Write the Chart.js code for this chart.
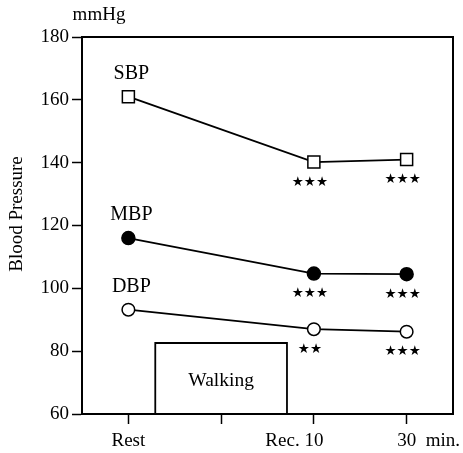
<!DOCTYPE html>
<html>
<head>
<meta charset="utf-8">
<script src="https://cdn.jsdelivr.net/npm/chart.js@4/dist/chart.umd.min.js"></script>
<style>html,body{margin:0;padding:0;background:#fff}</style>
</head>
<body>
<canvas id="bp" width="463" height="453"></canvas>
<script>
// x positions of the time points (Rest, walking, Rec. 10, 30 min)
const xPos = [0, 1, 2, 3];
const xLabels = ['Rest', '', 'Rec. 10', '30  min.'];
const yTicks = [60, 80, 100, 120, 140, 160, 180];

// measured points: Rest, Rec. 10, 30 min
const seriesX = [0, 2, 3];
const sbp = [161, 140.2, 141];
const mbp = [116, 104.7, 104.5];
const dbp = [93.2, 87, 86.2];
const seriesNames = ['SBP', 'MBP', 'DBP'];
const sbpSig = ['', '★★★', '★★★'];
const mbpSig = ['', '★★★', '★★★'];
const dbpSig = ['', '★★', '★★★'];

// walking period box (x from / to, top value)
const walkX = [0.29, 0.29, 1.71, 1.71];
const walkY = [60, 82.6, 82.6, 60];
const walkLabel = 'Walking';

const serif = '"Liberation Serif", "Times New Roman", serif';

function pts(xs, ys) {
    return xs.map((v, i) => ({x: v, y: ys[i]}));
}

const annot = {
    id: 'annot',
    afterDraw(chart) {
        const ctx = chart.ctx;
        const a = chart.chartArea;
        const x = chart.scales.x, y = chart.scales.y;
        ctx.save();
        ctx.strokeStyle = '#000';
        ctx.lineWidth = 2;
        ctx.strokeRect(a.left, a.top, a.right - a.left, a.bottom - a.top);

        ctx.fillStyle = '#000';
        ctx.textBaseline = 'middle';
        ctx.textAlign = 'center';
        ctx.font = '19px ' + serif;
        ctx.fillText('mmHg', 99, 15);

        // y title
        ctx.save();
        ctx.translate(17, 214);
        ctx.rotate(-Math.PI / 2);
        ctx.fillText('Blood Pressure', 0, 0);
        ctx.restore();

        // x labels, number centred under the tick
        xLabels.forEach((lab, i) => {
            const px = x.getPixelForValue(xPos[i]);
            const py = a.bottom + 27;
            const m = lab.match(/^(.*?)(\d+)(.*)$/);
            if (!m) {
                ctx.textAlign = 'center';
                ctx.fillText(lab, px, py);
                return;
            }
            const w = ctx.measureText(m[2]).width;
            ctx.textAlign = 'center';
            ctx.fillText(m[2], px, py);
            ctx.textAlign = 'right';
            ctx.fillText(m[1], px - w / 2, py);
            ctx.textAlign = 'left';
            ctx.fillText(m[3], px + w / 2, py);
        });

        // series names above first point, significance marks below
        const all = [sbp, mbp, dbp];
        const sigs = [sbpSig, mbpSig, dbpSig];
        ctx.textAlign = 'center';
        all.forEach((s, k) => {
            ctx.font = '20px ' + serif;
            ctx.fillText(seriesNames[k], x.getPixelForValue(seriesX[0]) + 3, y.getPixelForValue(s[0]) - 23);
            ctx.font = '13.5px "DejaVu Sans"';
            sigs[k].forEach((t, i) => {
                if (!t) return;
                ctx.fillText(t, x.getPixelForValue(seriesX[i]) - 4, y.getPixelForValue(s[i]) + 20);
            });
        });

        // walking label
        ctx.font = '19.5px ' + serif;
        const wx = x.getPixelForValue((walkX[0] + walkX[2]) / 2);
        const wy = (y.getPixelForValue(walkY[1]) + y.getPixelForValue(walkY[0])) / 2 + 2;
        ctx.fillText(walkLabel, wx, wy);
        ctx.restore();
    }
};

const lineStyle = {
    borderColor: '#000',
    borderWidth: 1.8,
    pointBorderColor: '#000',
    pointBorderWidth: 1.5,
    tension: 0
};

new Chart(document.getElementById('bp'), {
    type: 'line',
    data: {
        datasets: [
            Object.assign({label: seriesNames[0], data: pts(seriesX, sbp),
                pointStyle: 'rect', pointRadius: 8.5, pointBackgroundColor: '#fff'}, lineStyle),
            Object.assign({label: seriesNames[1], data: pts(seriesX, mbp),
                pointStyle: 'circle', pointRadius: 6.5, pointBackgroundColor: '#000'}, lineStyle),
            Object.assign({label: seriesNames[2], data: pts(seriesX, dbp),
                pointStyle: 'circle', pointRadius: 6.3, pointBackgroundColor: '#fff'}, lineStyle),
            {label: walkLabel, data: pts(walkX, walkY), borderColor: '#000', borderWidth: 1.8,
                pointRadius: 0, fill: false, tension: 0}
        ]
    },
    options: {
        responsive: false,
        animation: false,
        layout: {padding: {top: 37, right: 10, left: 0, bottom: 0}},
        plugins: {legend: {display: false}, tooltip: {enabled: false}},
        scales: {
            x: {
                type: 'linear',
                min: -0.5,
                max: 3.5,
                afterBuildTicks: s => { s.ticks = xPos.map(v => ({value: v})); },
                afterFit: s => { s.height = 39; },
                ticks: {display: false},
                grid: {drawOnChartArea: false, tickLength: 10, tickWidth: 1.5, color: '#000'},
                border: {color: '#000', width: 2}
            },
            y: {
                min: 60,
                max: 180,
                afterBuildTicks: s => { s.ticks = yTicks.map(v => ({value: v})); },
                afterFit: s => { s.width = 82; },
                ticks: {color: '#000', padding: 3, font: {family: serif, size: 19}},
                grid: {drawOnChartArea: false, tickLength: 10, tickWidth: 1.5, color: '#000'},
                border: {color: '#000', width: 2}
            }
        }
    },
    plugins: [annot]
});
</script>
</body>
</html>
